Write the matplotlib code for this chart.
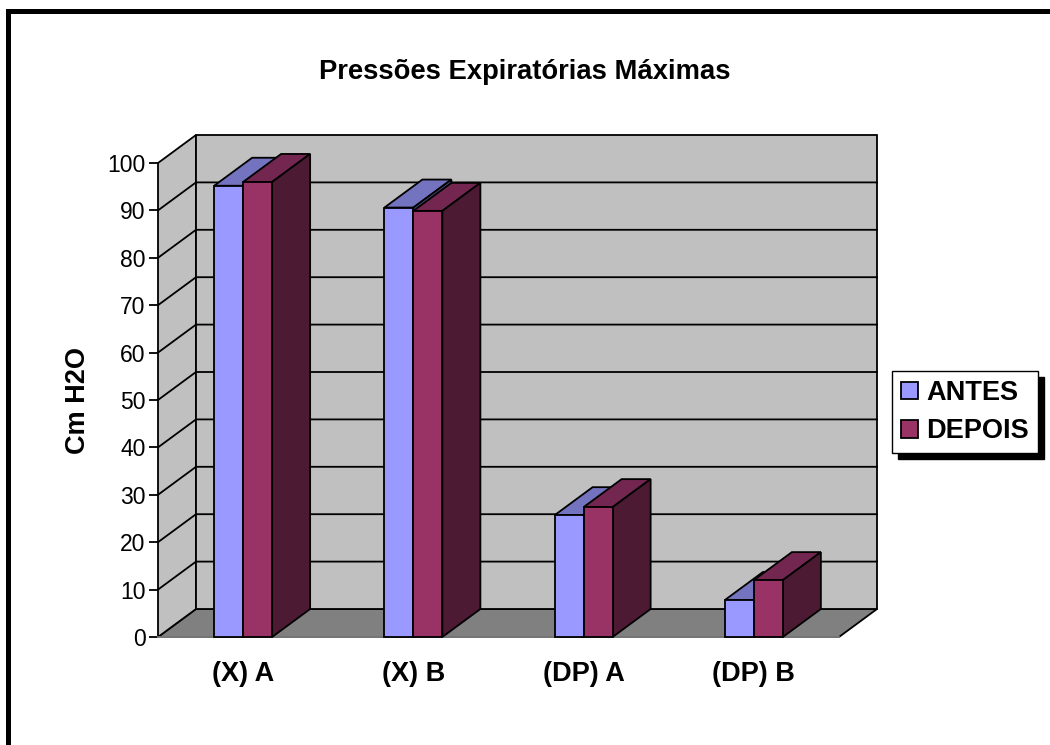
#!/usr/bin/env python3
"""Pressoes Expiratorias Maximas: fake-3D clustered bars, as Excel draws them."""
import matplotlib
matplotlib.use("Agg")
import matplotlib.pyplot as plt
from matplotlib.patches import Patch, Polygon, Rectangle

plt.rcParams["font.family"] = ["Liberation Sans", "DejaVu Sans"]

categories = ["(X) A", "(X) B", "(DP) A", "(DP) B"]
antes = [95.2, 90.6, 25.7, 7.8]
depois = [96.0, 89.9, 27.4, 12.0]
yticks = list(range(0, 101, 10))

W, H = 1050, 745
# depth of the 3D effect, pixels turned into data units below
DX = 38 / 170.25
DY = 28 / 4.74
BAR_W = 29 / 170.25
LW = 1.3

fig = plt.figure(figsize=(W / 100, H / 100), dpi=100, facecolor="white")
ax = fig.add_axes([158 / W, (H - 637) / H, 681 / W, 474 / H])
ax.set_xlim(-0.5, 3.5)
ax.set_ylim(0, 100)
ax.patch.set_visible(False)
for name, spine in ax.spines.items():
    spine.set_visible(False)


def poly(pts, color, z):
    ax.add_patch(Polygon(pts, closed=True, facecolor=color, edgecolor="black",
                         linewidth=LW, clip_on=False, zorder=z, joinstyle="miter"))


x0, x1 = ax.get_xlim()
# walls and floor
poly([(x0, 0), (x0 + DX, DY), (x1 + DX, DY), (x1, 0)], "#808080", 1)
poly([(x0, 0), (x0 + DX, DY), (x0 + DX, 100 + DY), (x0, 100)], "#C0C0C0", 1)
poly([(x0 + DX, DY), (x1 + DX, DY), (x1 + DX, 100 + DY), (x0 + DX, 100 + DY)],
     "#C0C0C0", 1)
# the front edge of the floor is lighter than the rest
ax.plot([x0, x1], [0, 0], color="#808080", lw=LW, clip_on=False, zorder=2)

for v in yticks[1:-1]:
    ax.plot([x0, x0 + DX, x1 + DX], [v, v + DY, v + DY], color="black", lw=LW,
            clip_on=False, zorder=2, solid_joinstyle="miter")


def bar3d(x, v, front, top, side, z):
    poly([(x, v), (x + DX, v + DY), (x + BAR_W + DX, v + DY), (x + BAR_W, v)], top, z)
    poly([(x + BAR_W, 0), (x + BAR_W + DX, DY), (x + BAR_W + DX, v + DY), (x + BAR_W, v)],
         side, z)
    poly([(x, 0), (x + BAR_W, 0), (x + BAR_W, v), (x, v)], front, z)


for i in range(len(categories)):
    bar3d(i - BAR_W, antes[i], "#9999FF", "#7373BF", "#4D4D80", 3 + i * 2)
    bar3d(i, depois[i], "#993366", "#732650", "#4D1A33", 4 + i * 2)

ax.set_yticks(yticks)
ax.set_xticks(range(len(categories)))
ax.set_xticklabels(categories, fontsize=19.5, fontweight="bold")
ax.tick_params(axis="x", length=0, pad=17.5)
ax.tick_params(axis="y", length=6.5, width=LW, labelsize=16.5, pad=2.5, color="black")

fig.text(525 / W, 1 - 72 / H, "Pressões Expiratórias Máximas", fontsize=19.7,
         fontweight="bold", ha="center", va="center")
fig.text(78 / W, 1 - 401 / H, "Cm H2O", fontsize=19.5, fontweight="bold",
         rotation=90, ha="center", va="center")

# legend with its hard shadow, offsets are in points
handles = [Patch(facecolor="#9999FF", edgecolor="black", linewidth=LW, label="ANTES"),
           Patch(facecolor="#993366", edgecolor="black", linewidth=LW, label="DEPOIS")]
leg = fig.legend(handles=handles, loc="upper left",
                 bbox_to_anchor=(892 / W, 1 - 371 / H), borderaxespad=0,
                 prop={"weight": "bold", "size": 19.5}, frameon=True,
                 fancybox=False, edgecolor="black", framealpha=1,
                 shadow={"ox": 4.3, "oy": -4.3, "facecolor": "black",
                         "edgecolor": "black", "alpha": 1},
                 handlelength=0.63, handleheight=0.63, handletextpad=0.3,
                 labelspacing=0.46, borderpad=0.33)
leg.get_frame().set_linewidth(1.0)

# chart area border, only top and left fit inside the crop
fig.add_artist(Rectangle((6 / W, 0), 5 / W, 1 - 9 / H, transform=fig.transFigure,
                         facecolor="black", edgecolor="none"))
fig.add_artist(Rectangle((6 / W, 1 - 14 / H), 1 - 6 / W, 5 / H, transform=fig.transFigure,
                         facecolor="black", edgecolor="none"))

fig.savefig("out.png", dpi=100, facecolor="white")
